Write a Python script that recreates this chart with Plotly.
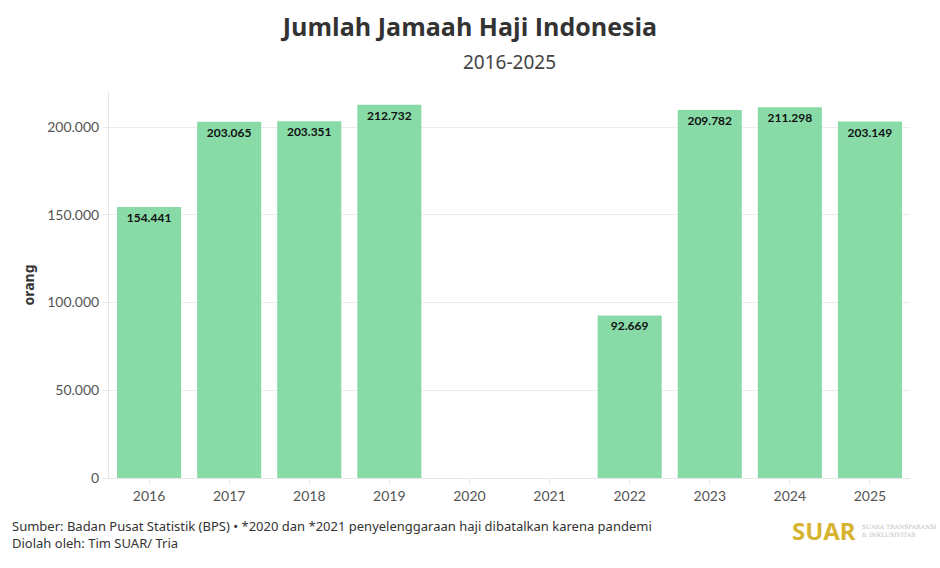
import plotly.graph_objs as go

years = ["2016", "2017", "2018", "2019", "2020", "2021", "2022", "2023", "2024", "2025"]
jamaah = [154441, 203065, 203351, 212732, None, None, 92669, 209782, 211298, 203149]
y_ticks = [0, 50000, 100000, 150000, 200000]

fig = go.Figure()
fig.add_trace(go.Bar(
    x=years,
    y=jamaah,
    marker=dict(color="#88DBA7", line=dict(width=0)),
    width=0.8,
    texttemplate="%{y:,}",
    textposition="inside",
    insidetextanchor="end",
    textangle=0,
    textfont=dict(family="Lato", size=12, color="#111111", weight="bold"),
    hoverinfo="x+y",
))

fig.update_layout(
    width=940, height=568,
    paper_bgcolor="white", plot_bgcolor="white",
    separators=",.",
    margin=dict(l=109, r=30, t=92, b=90),
    showlegend=False,
    font=dict(family="Lato", color="#555555"),
    title=dict(
        text="<b>Jumlah Jamaah Haji Indonesia</b>",
        x=0.5, xanchor="center", y=0.968, yanchor="top",
        font=dict(family="Open Sans", size=25, color="#333333"),
    ),
)

fig.update_xaxes(
    type="category",
    showgrid=False,
    showline=True, linecolor="#e6e6e6", linewidth=1,
    ticks="outside", ticklen=5, tickcolor="#e6e6e6",
    tickfont=dict(family="Lato", size=14, color="#555555"),
)
fig.update_yaxes(
    range=[0, 220000],
    tickvals=y_ticks,
    tickformat=",",
    showgrid=True, gridcolor="#ececec", gridwidth=1,
    zeroline=False,
    showline=True, linecolor="#e6e6e6", linewidth=1,
    ticks="outside", ticklen=6, tickcolor="#e6e6e6",
    tickfont=dict(family="Lato", size=14, color="#555555"),
    title=dict(text="<b>orang</b>", standoff=9,
               font=dict(family="Noto Sans", size=14, color="#333333")),
)

fig.add_annotation(
    text="2016-2025", xref="paper", yref="paper", x=0.5, y=1.0, yshift=30,
    xanchor="center", yanchor="middle", showarrow=False,
    font=dict(family="Noto Sans", size=19, color="#444444"),
)
fig.add_annotation(
    text="Sumber: Badan Pusat Statistik (BPS) \u2022 *2020 dan *2021 penyelenggaraan haji dibatalkan karena pandemi<br>Diolah oleh: Tim SUAR/ Tria",
    xref="paper", yref="paper", x=-0.123, y=0, yshift=-37,
    xanchor="left", yanchor="top", align="left", showarrow=False,
    font=dict(family="Noto Sans", size=13, color="#333333"),
)
fig.add_annotation(
    text="<b>SUAR</b>", xref="paper", yref="paper", x=1.0, y=0, yshift=-52,
    xanchor="right", yanchor="middle", xshift=-52, showarrow=False,
    font=dict(family="Noto Sans", size=24, color="#D6B432"),
)
fig.add_annotation(
    text="SUARA TRANSPARANSI<br>& INKLUSIVITAS", xref="paper", yref="paper", x=1.0, y=0, yshift=-52,
    xanchor="left", yanchor="middle", xshift=-50, align="left", showarrow=False,
    font=dict(family="DejaVu Serif", size=6, color="#bbbbbb"),
)

fig.write_html("out.html", config={"displayModeBar": False},
               post_script="document.body.style.margin='0';")
